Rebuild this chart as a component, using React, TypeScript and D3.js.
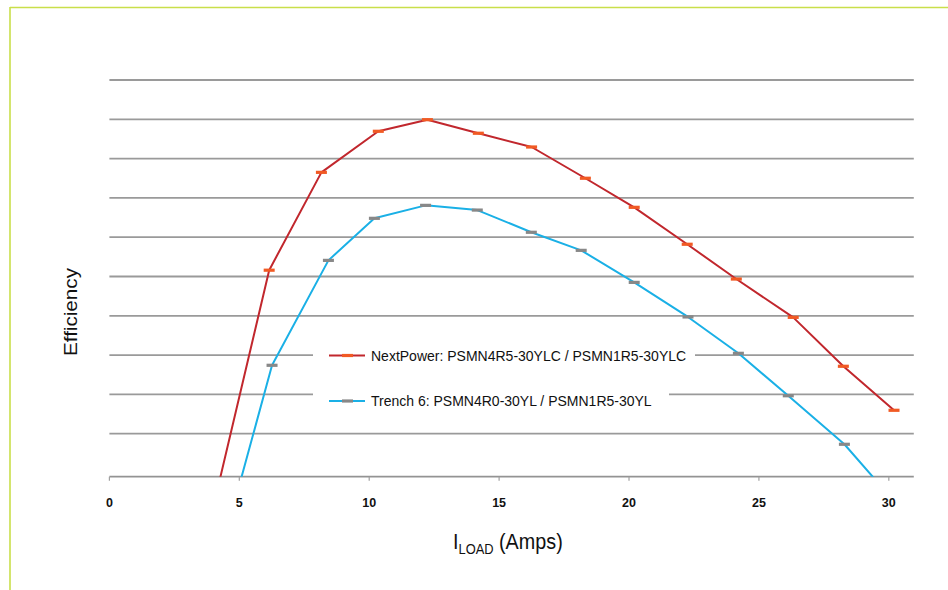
import React from "react";
import * as d3 from "d3";

const xTicks = [0, 5, 10, 15, 20, 25, 30];
const gridValues = [82, 84, 86, 88, 90, 92, 94, 96, 98, 100];

const nextPowerX = [4.0, 6.15, 8.16, 10.35, 12.24, 14.2, 16.25, 18.32, 20.2, 22.24, 24.13, 26.32, 28.25, 30.2];
const nextPowerY = [78.27, 90.32, 95.3, 97.39, 97.98, 97.29, 96.59, 95.0, 93.52, 91.64, 89.87, 87.92, 85.43, 83.19];

const trenchX = [4.8, 6.26, 8.43, 10.2, 12.17, 14.16, 16.24, 18.16, 20.2, 22.27, 24.21, 26.13, 28.29, 30.2];
const trenchY = [78.41, 85.48, 90.82, 92.96, 93.62, 93.38, 92.25, 91.33, 89.7, 87.94, 86.09, 83.93, 81.46, 78.57];

const legendLabels = [
  "NextPower: PSMN4R5-30YLC / PSMN1R5-30YLC",
  "Trench 6: PSMN4R0-30YL / PSMN1R5-30YL",
];

const W = 948;
const H = 590;
const left = 109.4;
const right = 914.8;
const top = 80;
const bottom = 476.7;

const FONT = "'Liberation Sans', Arial, sans-serif";

export default function App() {
  const x = d3.scaleLinear().domain([0, 31]).range([left, right]);
  const y = d3.scaleLinear().domain([79.81, 100]).range([bottom, top]);

  const line = d3
    .line<[number, number]>()
    .x((d) => x(d[0]))
    .y((d) => y(d[1]));

  const series = [
    {
      pts: nextPowerX.map((v, i) => [v, nextPowerY[i]] as [number, number]),
      color: "#c1272d",
      marker: "#f15a24",
    },
    {
      pts: trenchX.map((v, i) => [v, trenchY[i]] as [number, number]),
      color: "#1ab0e6",
      marker: "#888888",
    },
  ];

  const legendRows = [
    { y: 355.5, bgX: 313, bgW: 382 },
    { y: 401, bgX: 313, bgW: 356 },
  ];

  return (
    <svg
      width={W}
      height={H}
      style={{ position: "absolute", left: 0, top: 0, background: "#fff" }}
      fontFamily={FONT}
    >
      <defs>
        <clipPath id="plotClip">
          <rect x={left} y={40} width={right - left + 2} height={bottom - 40} />
        </clipPath>
      </defs>
      <rect x={0} y={0} width={W} height={H} fill="#fff" />
      {/* border */}
      <line x1={10} y1={7.5} x2={W} y2={7.5} stroke="#c9df4a" strokeWidth={1.6} />
      <line x1={10} y1={7} x2={10} y2={H} stroke="#c9df4a" strokeWidth={1.6} />

      {/* gridlines */}
      {gridValues.map((g) => (
        <line
          key={g}
          x1={left}
          x2={right - 1}
          y1={y(g)}
          y2={y(g)}
          stroke="#9a9a9a"
          strokeWidth={1.8}
        />
      ))}

      {/* x axis */}
      <line x1={left} x2={right - 1} y1={bottom} y2={bottom} stroke="#939393" strokeWidth={1.8} />
      {xTicks.map((t) => (
        <g key={t}>
          <line x1={x(t)} x2={x(t)} y1={bottom} y2={bottom + 4} stroke="#a0a0a0" strokeWidth={1.2} />
          <text
            x={x(t)}
            y={507}
            textAnchor="middle"
            fontSize={12.5}
            fontWeight="bold"
            fill="#111"
          >
            {t}
          </text>
        </g>
      ))}

      {/* legend */}
      {legendRows.map((r, i) => (
        <g key={i}>
          <rect x={r.bgX} y={r.y - 10} width={r.bgW} height={20} fill="#fff" />
          <line x1={329} x2={365} y1={r.y} y2={r.y} stroke={series[i].color} strokeWidth={2} />
          <rect x={342} y={r.y - 1.6} width={11} height={3.2} fill={series[i].marker} />
          <text x={371} y={r.y + 5} fontSize={14} fill="#111">
            {legendLabels[i]}
          </text>
        </g>
      ))}

      {/* series */}
      <g clipPath="url(#plotClip)">
        {series.map((s, i) => (
          <g key={i}>
            <path d={line(s.pts) || ""} fill="none" stroke={s.color} strokeWidth={2} strokeLinejoin="round" />
            {s.pts.map((p, j) => (
              <rect
                key={j}
                x={x(p[0]) - 5.5}
                y={y(p[1]) - 1.6}
                width={11}
                height={3.2}
                fill={s.marker}
              />
            ))}
          </g>
        ))}
      </g>

      {/* axis titles */}
      <text
        transform="translate(77,312) rotate(-90)"
        textAnchor="middle"
        fontSize={17.5}
        textLength={88}
        lengthAdjust="spacingAndGlyphs"
        fill="#111"
      >
        Efficiency
      </text>
      <g transform="translate(453,549) scale(0.92,1)">
        <text x={0} y={0} fontSize={21.5} fill="#111">
          I
          <tspan fontSize={14} dy={5}>LOAD</tspan>
          <tspan dy={-5}> (Amps)</tspan>
        </text>
      </g>
    </svg>
  );
}
